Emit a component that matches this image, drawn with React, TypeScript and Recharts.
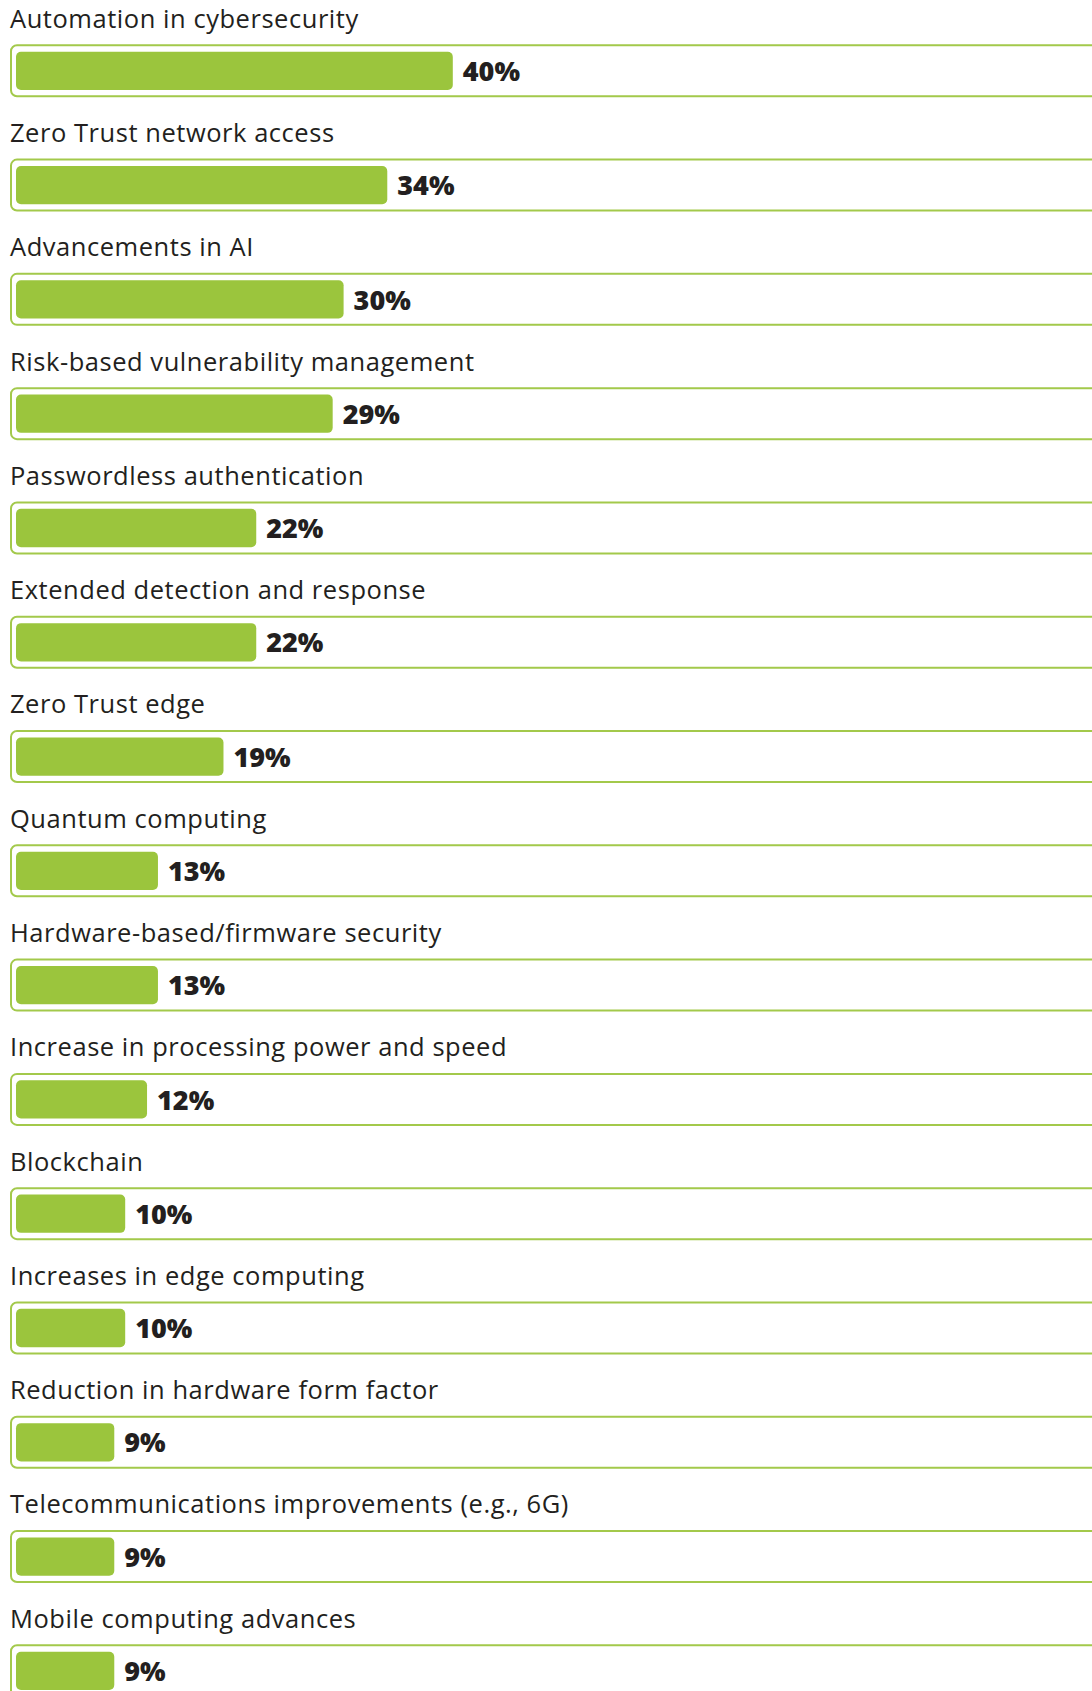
import React from "react";
import { BarChart, Bar, XAxis, YAxis } from "recharts";

const categories = [
  "Automation in cybersecurity",
  "Zero Trust network access",
  "Advancements in AI",
  "Risk-based vulnerability management",
  "Passwordless authentication",
  "Extended detection and response",
  "Zero Trust edge",
  "Quantum computing",
  "Hardware-based/firmware security",
  "Increase in processing power and speed",
  "Blockchain",
  "Increases in edge computing",
  "Reduction in hardware form factor",
  "Telecommunications improvements (e.g., 6G)",
  "Mobile computing advances",
];

const values = [40, 34, 30, 29, 22, 22, 19, 13, 13, 12, 10, 10, 9, 9, 9];

const data = categories.map((name, i) => ({ name, value: values[i] }));

const GREEN = "#9bc53d";
const BORDER = "#a3c94b";
const TEXT = "#231f20";
const FONT = "'Open Sans', 'Noto Sans', sans-serif";

const RowShape = (props: any) => {
  const { x, y, width, payload } = props;
  return (
    <g>
      <text
        x={10}
        y={y + 27.7}
        fontFamily={FONT}
        fontSize={25.5}
        letterSpacing={0.55}
        fill={TEXT}
      >
        {payload.name}
      </text>
      <rect
        x={11}
        y={y + 45.3}
        width={1200}
        height={51}
        rx={6}
        ry={6}
        fill="#ffffff"
        stroke={BORDER}
        strokeWidth={2}
      />
      <rect
        x={x}
        y={y + 51.7}
        width={width}
        height={38.3}
        rx={5}
        ry={5}
        fill={GREEN}
      />
      <text
        x={x + width + 10}
        y={y + 81}
        fontFamily={FONT}
        fontSize={27}
        fontWeight={800}
        fill={TEXT}
      >
        {`${payload.value}%`}
      </text>
    </g>
  );
};

export default function App() {
  return (
    <div
      style={{
        position: "absolute",
        left: 0,
        top: 0,
        width: 1092,
        height: 1691,
        overflow: "hidden",
        background: "#ffffff",
      }}
    >
      <BarChart
        width={1120}
        height={1714.3}
        data={data}
        layout="vertical"
        margin={{ top: 0, right: 12, bottom: 0, left: 16 }}
        barCategoryGap={0}
      >
        <XAxis type="number" domain={[0, 100]} hide />
        <YAxis type="category" dataKey="name" hide />
        <Bar
          dataKey="value"
          isAnimationActive={false}
          shape={<RowShape />}
        />
      </BarChart>
    </div>
  );
}
